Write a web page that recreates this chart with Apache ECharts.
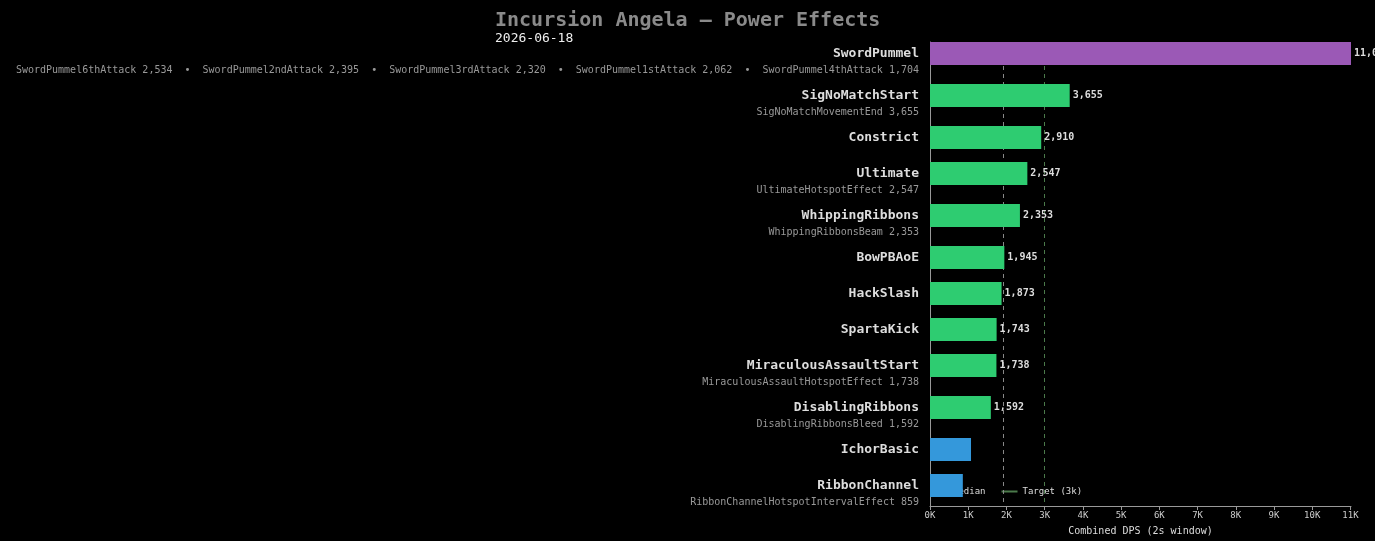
<!DOCTYPE html>
<html>
<head>
<meta charset="utf-8">
<script src="https://cdn.jsdelivr.net/npm/echarts@6/dist/echarts.min.js"></script>
<style>
html,body{margin:0;padding:0;background:#000;}
#chart{width:1375px;height:541px;}
</style>
</head>
<body>
<div id="chart"></div>
<script>
// ---------- DATA ----------
const categories = ['SwordPummel','SigNoMatchStart','Constrict','Ultimate','WhippingRibbons','BowPBAoE','HackSlash','SpartaKick','MiraculousAssaultStart','DisablingRibbons','IchorBasic','RibbonChannel'];
const values = [11015, 3655, 2910, 2547, 2353, 1945, 1873, 1743, 1738, 1592, 1073, 859];
const tiers = ['top','mid','mid','mid','mid','mid','mid','mid','mid','mid','low','low'];
const subEffects = [
  [['SwordPummel6thAttack', 2534], ['SwordPummel2ndAttack', 2395], ['SwordPummel3rdAttack', 2320], ['SwordPummel1stAttack', 2062], ['SwordPummel4thAttack', 1704]],
  [['SigNoMatchMovementEnd', 3655]],
  [],
  [['UltimateHotspotEffect', 2547]],
  [['WhippingRibbonsBeam', 2353]],
  [],
  [],
  [],
  [['MiraculousAssaultHotspotEffect', 1738]],
  [['DisablingRibbonsBleed', 1592]],
  [],
  [['RibbonChannelHotspotIntervalEffect', 859]]
];
const targetDps = 3000;
const xTickStep = 1000;
const titleText = 'Incursion Angela \u2014 Power Effects';
const dateText = '2026-06-18';
const xAxisName = 'Combined DPS (2s window)';
const legendNames = ['Median', 'Target (3k)'];

// ---------- STYLE / LAYOUT ----------
const FONT = '"DejaVu Sans Mono", "Liberation Mono", monospace';
const tierColors = { top: '#9b59b6', mid: '#2ecc71', low: '#3498db' };
const ROW = 36, SUB_EXTRA = 6, TOP_PAD = 11.5, BOTTOM_PAD = 20.5, BAR_H = 23;

const fmt = v => Math.round(v).toLocaleString('en-US');
const positions = [];
categories.forEach((c, i) => {
  positions.push(i === 0 ? TOP_PAD : positions[i - 1] + ROW + (subEffects[i - 1].length ? SUB_EXTRA : 0));
});
const yMax = positions[positions.length - 1] + BOTTOM_PAD;
const sorted = values.slice().sort((a, b) => a - b);
const mid = sorted.length / 2;
const median = sorted.length % 2 ? sorted[Math.floor(mid)] : (sorted[mid - 1] + sorted[mid]) / 2;

const seriesData = values.map((v, i) => [v, positions[i], i]);

const chart = echarts.init(document.getElementById('chart'), null, { renderer: 'canvas' });
chart.setOption({
  backgroundColor: '#000',
  animation: false,
  title: {
    text: titleText,
    subtext: dateText,
    left: 495, top: 11,
    itemGap: 1,
    padding: 0,
    textStyle: { fontFamily: FONT, fontSize: 20, fontWeight: 'bold', color: '#8a8a8a' },
    subtextStyle: { fontFamily: FONT, fontSize: 13, fontWeight: 'normal', color: '#eeeeee' }
  },
  legend: {
    data: legendNames,
    left: 932, top: 487,
    icon: 'rect',
    itemWidth: 16, itemHeight: 2,
    itemGap: 16,
    padding: 0,
    textStyle: { fontFamily: FONT, fontSize: 9, color: '#dddddd', padding: [0, 0, 0, 0] }
  },
  grid: { left: 930, right: 24, top: 42, bottom: 35, containLabel: false },
  xAxis: {
    type: 'value',
    min: 0,
    max: Math.max(...values),
    interval: xTickStep,
    name: xAxisName,
    nameLocation: 'middle',
    nameGap: 20,
    nameTextStyle: { fontFamily: FONT, fontSize: 10, color: '#dddddd' },
    axisLine: { show: true, onZero: false, lineStyle: { color: '#999', width: 1 } },
    axisTick: { show: true, length: 4, lineStyle: { color: '#999' } },
    axisLabel: { fontFamily: FONT, fontSize: 9, color: '#cccccc', margin: 5, formatter: v => (v / 1000) + 'K', showMaxLabel: false },
    splitLine: { show: false }
  },
  yAxis: {
    type: 'value',
    inverse: true,
    min: 0,
    max: yMax,
    axisLine: { show: true, onZero: false, lineStyle: { color: '#999', width: 1 } },
    axisTick: { show: false },
    axisLabel: { show: false },
    splitLine: { show: false }
  },
  series: [
    {
      name: legendNames[0], type: 'line', data: [], z: 1,
      itemStyle: { color: '#888888' }, lineStyle: { color: '#888888' },
      markLine: {
        silent: true, symbol: 'none', label: { show: false },
        lineStyle: { color: '#888888', type: [4, 4], width: 1 },
        data: [{ xAxis: median }]
      }
    },
    {
      name: legendNames[1], type: 'line', data: [], z: 1,
      itemStyle: { color: '#4b7a4b' }, lineStyle: { color: '#4b7a4b' },
      markLine: {
        silent: true, symbol: 'none', label: { show: false },
        lineStyle: { color: '#4b7a4b', type: [4, 4], width: 1 },
        data: [{ xAxis: targetDps }]
      }
    },
    {
      type: 'custom',
      z: 6,
      clip: false,
      data: seriesData,
      encode: { x: 0, y: 1 },
      renderItem: function (params, api) {
        const v = api.value(0), p = api.value(1), i = api.value(2);
        const start = api.coord([0, p]);
        const end = api.coord([v, p]);
        const h = api.size([0, BAR_H])[1];
        const tier = tiers[i];
        const children = [{
          type: 'rect',
          shape: { x: start[0], y: start[1] - h / 2, width: end[0] - start[0], height: h },
          style: { fill: tierColors[tier] }
        }];
        if (tier !== 'low') {
          children.push({ type: 'text', style: {
            text: fmt(v), x: end[0] + 3, y: end[1], align: 'left', verticalAlign: 'middle',
            fill: '#dddddd', fontFamily: FONT, fontSize: 10, fontWeight: 'bold' } });
        }
        children.push({ type: 'text', style: {
          text: categories[i], x: start[0] - 11, y: start[1], align: 'right', verticalAlign: 'middle',
          fill: '#dddddd', fontFamily: FONT, fontSize: 13, fontWeight: 'bold' } });
        const subs = subEffects[i];
        if (subs.length) {
          children.push({ type: 'text', style: {
            text: subs.map(s => s[0] + ' ' + fmt(s[1])).join('  \u2022  '),
            x: start[0] - 11, y: start[1] + 17, align: 'right', verticalAlign: 'middle',
            fill: '#999999', fontFamily: FONT, fontSize: 10, fontWeight: 'normal' } });
        }
        return { type: 'group', children };
      }
    }
  ]
});
</script>
</body>
</html>
